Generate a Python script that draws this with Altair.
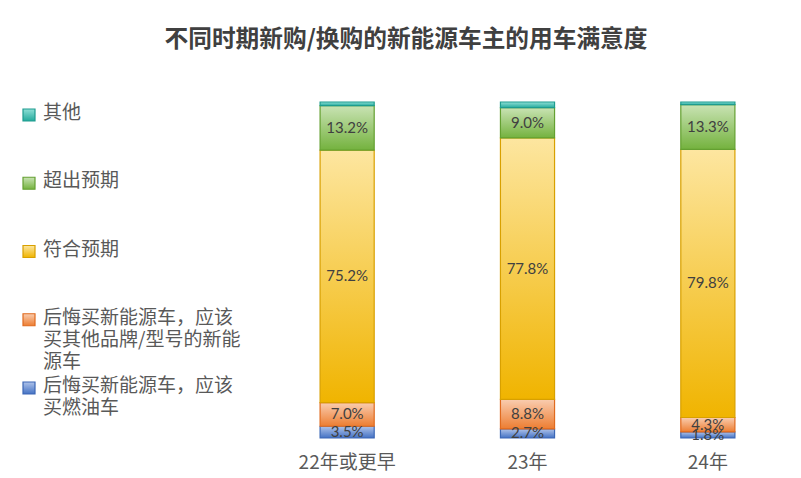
import altair as alt
import pandas as pd

periods = ["22年或更早", "23年", "24年"]
series = [
    "后悔买新能源车，应该买燃油车",
    "后悔买新能源车，应该买其他品牌/型号的新能源车",
    "符合预期",
    "超出预期",
    "其他",
]
legend_labels = [
    "后悔买新能源车，应该\n买燃油车",
    "后悔买新能源车，应该\n买其他品牌/型号的新能\n源车",
    "符合预期",
    "超出预期",
    "其他",
]
v_fuel = [3.5, 2.7, 1.8]
v_brand = [7.0, 8.8, 4.3]
v_meet = [75.2, 77.8, 79.8]
v_exceed = [13.2, 9.0, 13.3]
v_other = [1.1, 1.7, 0.8]
values = [v_fuel, v_brand, v_meet, v_exceed, v_other]

grad_top = ["#AFC3EA", "#F9CDB0", "#FDE6A0", "#C9E3B4", "#8EDFD6"]
grad_bot = ["#4472C4", "#ED7D31", "#F0B400", "#74B23E", "#23AA9C"]
strokes = ["#3C67B5", "#E06A1E", "#D8A000", "#64A031", "#1E9C8F"]

rows = []
for i, s in enumerate(series):
    for j, p in enumerate(periods):
        rows.append({"period": p, "series": s, "order": i, "value": values[i][j]})
df = pd.DataFrame(rows)

leg_df = pd.DataFrame({"series": series, "label": legend_labels, "order": list(range(len(series)))})
legend_order = list(reversed(series))

FONT = "Noto Sans CJK SC"

def grad(i):
    return alt.Gradient(
        gradient="linear",
        stops=[alt.GradientStop(color=grad_top[i], offset=0),
               alt.GradientStop(color=grad_bot[i], offset=1)],
        x1=0, x2=0, y1=0, y2=1,
    )

xenc = alt.X(
    "period:N", sort=periods,
    scale=alt.Scale(paddingInner=0.7, paddingOuter=0.25),
    axis=alt.Axis(title=None, labelAngle=0, ticks=False, domain=False,
                  labelFontSize=19, labelColor="#595959", labelPadding=15,
                  labelFont=FONT, grid=False),
)
yscale = alt.Scale(domain=[0, 100], nice=False)

base = alt.Chart(df).transform_stack(
    stack="value", groupby=["period"], as_=["y0", "y1"],
    sort=[alt.SortField("order", order="ascending")],
)

layers = []
for i, s in enumerate(series):
    layers.append(
        base.transform_filter(alt.datum.series == s)
        .mark_bar(fill=grad(i), stroke=strokes[i], strokeWidth=1.2)
        .encode(x=xenc, y=alt.Y("y0:Q", scale=yscale, axis=None), y2="y1:Q")
    )

text_layer = (
    base.transform_filter(alt.datum.series != "其他")
    .transform_calculate(mid="(datum.y0 + datum.y1) / 2",
                         label="format(datum.value, '.1f') + '%'")
    .mark_text(fontSize=15, color="#404040", font="Lato")
    .encode(x=xenc, y=alt.Y("mid:Q", scale=yscale, axis=None), text="label:N")
)

bars = alt.layer(*layers, text_layer).properties(width=505, height=336)

lyscale = alt.Scale(type="point", domain=legend_order, range=[13, 286], padding=0)
leg_layers = []
for i, s in enumerate(series):
    leg_layers.append(
        alt.Chart(leg_df).transform_filter(alt.datum.series == s)
        .mark_square(size=144, fill=grad(i), stroke=strokes[i], strokeWidth=1.2, opacity=1)
        .encode(x=alt.value(21), y=alt.Y("series:N", scale=lyscale, axis=None))
    )
leg_text = (
    alt.Chart(leg_df)
    .mark_text(align="left", baseline="top", dy=-11, lineBreak="\n", lineHeight=22,
               fontSize=19, color="#595959", font=FONT)
    .encode(x=alt.value(35), y=alt.Y("series:N", scale=lyscale, axis=None), text="label:N")
)
legend = alt.layer(*leg_layers, leg_text).properties(width=267, height=336)

chart = (
    alt.hconcat(legend, bars, spacing=0)
    .properties(
        title=alt.TitleParams(
            "不同时期新购/换购的新能源车主的用车满意度",
            fontSize=23.7, font=FONT, fontWeight="bold", color="#404040",
            anchor="middle", offset=50, dx=12,
        ),
        padding={"left": 0, "top": 19, "right": 0, "bottom": 4},
    )
    .configure_view(stroke=None)
)

chart.save("out.html", embed_options={"renderer": "svg", "actions": False})
